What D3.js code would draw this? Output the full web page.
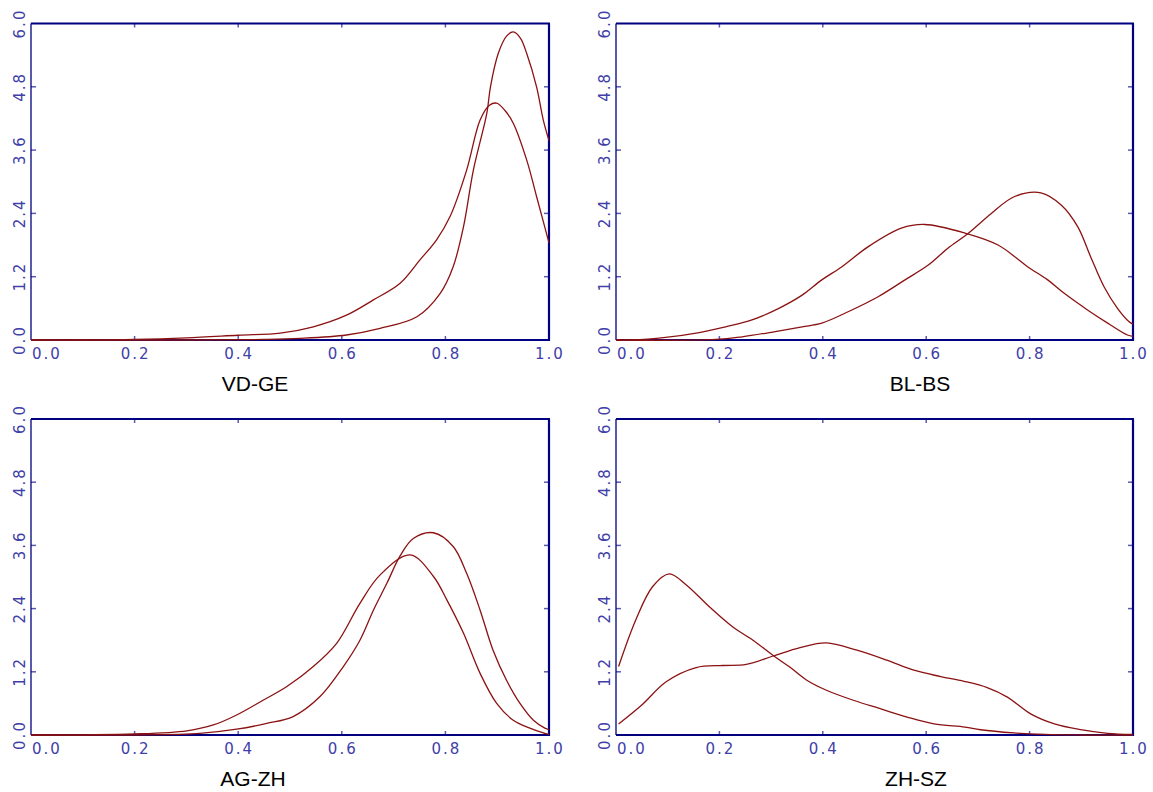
<!DOCTYPE html>
<html>
<head>
<meta charset="utf-8">
<script src="https://cdn.jsdelivr.net/npm/d3@7"></script>
<style>
  body { margin: 0; background: #fff; }
  .tick-label { font-family: "DejaVu Sans", sans-serif; font-size: 15px; fill: #4040a8; letter-spacing: 2px; }
  .title { font-family: "Liberation Sans", Arial, sans-serif; font-size: 21px; fill: #000; }
</style>
</head>
<body>
<div class="chart"></div>
<script>
var svgWidth = 1153;
var svgHeight = 792;

// tick values
var xTicks = [0.0, 0.2, 0.4, 0.6, 0.8, 1.0];
var yTicks = [0.0, 1.2, 2.4, 3.6, 4.8, 6.0];

// panel names
var titles = ["VD-GE", "BL-BS", "AG-ZH", "ZH-SZ"];

// density curves, [x, y]
var vdgeA = [[0, 0], [0.3, 0], [0.45, 0.01], [0.52, 0.03], [0.609, 0.095], [0.674, 0.22], [0.745, 0.44],
  [0.79, 0.885], [0.815, 1.39], [0.835, 2.15], [0.854, 3.22], [0.88, 4.3], [0.887, 4.8], [0.902, 5.43],
  [0.918, 5.76], [0.931, 5.84], [0.945, 5.72], [0.957, 5.43], [0.976, 4.8], [0.989, 4.17], [1.0, 3.78]];
var vdgeB = [[0, 0], [0.1, 0], [0.2, 0.01], [0.3, 0.04], [0.4, 0.09], [0.481, 0.13], [0.545, 0.25],
  [0.609, 0.47], [0.661, 0.76], [0.712, 1.07], [0.751, 1.52], [0.783, 1.9], [0.809, 2.34], [0.841, 3.22],
  [0.867, 4.17], [0.885, 4.45], [0.899, 4.49], [0.915, 4.35], [0.931, 4.11], [0.957, 3.41], [0.976, 2.72],
  [1.0, 1.84]];

var blbsA = [[0, 0], [0.03, 0], [0.096, 0.05], [0.161, 0.14], [0.212, 0.25], [0.263, 0.38], [0.315, 0.6],
  [0.36, 0.85], [0.398, 1.14], [0.437, 1.39], [0.488, 1.77], [0.552, 2.12], [0.597, 2.19], [0.674, 2.03],
  [0.739, 1.8], [0.796, 1.39], [0.835, 1.14], [0.867, 0.885], [0.912, 0.57], [0.951, 0.32], [0.989, 0.095],
  [1.0, 0.07]];
var blbsB = [[0, 0], [0.193, 0.01], [0.244, 0.06], [0.308, 0.16], [0.36, 0.25], [0.398, 0.32], [0.45, 0.54],
  [0.507, 0.82], [0.559, 1.14], [0.604, 1.42], [0.642, 1.74], [0.681, 2.02], [0.726, 2.4], [0.771, 2.72],
  [0.822, 2.79], [0.861, 2.56], [0.893, 2.15], [0.918, 1.58], [0.944, 1.01], [0.97, 0.6], [0.992, 0.35],
  [1.0, 0.3]];

var agzhA = [[0, 0], [0.2, 0], [0.326, 0.03], [0.397, 0.11], [0.455, 0.22], [0.506, 0.35], [0.558, 0.73],
  [0.603, 1.3], [0.635, 1.8], [0.661, 2.37], [0.687, 2.88], [0.712, 3.39], [0.738, 3.73], [0.777, 3.84],
  [0.815, 3.58], [0.841, 3.07], [0.867, 2.37], [0.892, 1.61], [0.918, 1.04], [0.944, 0.6], [0.97, 0.28],
  [0.992, 0.13], [1.0, 0.1]];
var agzhB = [[0, 0], [0.2, 0.02], [0.301, 0.08], [0.352, 0.19], [0.397, 0.38], [0.448, 0.66], [0.494, 0.92],
  [0.545, 1.3], [0.59, 1.74], [0.635, 2.5], [0.674, 3.04], [0.732, 3.42], [0.777, 3.01], [0.803, 2.56],
  [0.835, 1.93], [0.867, 1.17], [0.899, 0.6], [0.931, 0.28], [0.963, 0.13], [0.992, 0.03], [1.0, 0.01]];

var zhszA = [[0.005, 1.3], [0.038, 2.18], [0.071, 2.82], [0.103, 3.06], [0.136, 2.85], [0.181, 2.43],
  [0.226, 2.05], [0.265, 1.8], [0.304, 1.51], [0.336, 1.29], [0.369, 1.04], [0.407, 0.85], [0.459, 0.66],
  [0.511, 0.5], [0.563, 0.34], [0.615, 0.21], [0.675, 0.15], [0.705, 0.1], [0.77, 0.04], [0.83, 0.01],
  [0.9, 0], [1.0, 0]];
var zhszB = [[0.005, 0.21], [0.051, 0.58], [0.097, 1.01], [0.155, 1.28], [0.207, 1.32], [0.252, 1.34],
  [0.304, 1.5], [0.356, 1.66], [0.407, 1.75], [0.466, 1.61], [0.524, 1.42], [0.576, 1.23], [0.628, 1.11],
  [0.673, 1.02], [0.718, 0.9], [0.757, 0.72], [0.802, 0.4], [0.848, 0.21], [0.899, 0.1], [0.951, 0.03],
  [1.0, 0.01]];

var curves = [[vdgeA, vdgeB], [blbsA, blbsB], [agzhA, agzhB], [zhszA, zhszB]];

// panel boxes (left, right, top, bottom) and title centers
var panels = [
  { x0: 31, x1: 549, y0: 23.5, y1: 340, tx: 255, ty: 391 },
  { x0: 616, x1: 1133, y0: 23.5, y1: 340, tx: 920, ty: 391 },
  { x0: 31, x1: 549, y0: 419, y1: 735, tx: 253, ty: 786 },
  { x0: 616, x1: 1133, y0: 419, y1: 735, tx: 916, ty: 786 }
];

var navy = "#000080";
var tickColor = "#5a5ab4";
var lineColor = "#8b1212";

var svg = d3
  .select(".chart")
  .append("svg")
  .attr("width", svgWidth)
  .attr("height", svgHeight);

panels.forEach(function(p, i) {
  var xScale = d3.scaleLinear().domain([0, 1]).range([p.x0, p.x1]);
  var yScale = d3.scaleLinear().domain([0, 6]).range([p.y1, p.y0]);

  var g = svg.append("g");

  // tick marks, inside the frame on all four sides
  xTicks.slice(1, -1).forEach(function(t) {
    g.append("line").attr("x1", xScale(t)).attr("x2", xScale(t))
      .attr("y1", p.y1).attr("y2", p.y1 - 4)
      .attr("stroke", tickColor).attr("stroke-width", 1.5);
    g.append("line").attr("x1", xScale(t)).attr("x2", xScale(t))
      .attr("y1", p.y0).attr("y2", p.y0 + 4)
      .attr("stroke", tickColor).attr("stroke-width", 1.5);
  });
  yTicks.slice(1, -1).forEach(function(t) {
    g.append("line").attr("x1", p.x0).attr("x2", p.x0 + 5)
      .attr("y1", yScale(t)).attr("y2", yScale(t))
      .attr("stroke", tickColor).attr("stroke-width", 1.5);
    g.append("line").attr("x1", p.x1).attr("x2", p.x1 - 5)
      .attr("y1", yScale(t)).attr("y2", yScale(t))
      .attr("stroke", tickColor).attr("stroke-width", 1.5);
  });

  // frame: thin left side, heavier top/right/bottom
  g.append("line").attr("x1", p.x0).attr("x2", p.x0).attr("y1", p.y0).attr("y2", p.y1)
    .attr("stroke", navy).attr("stroke-width", 1.3);
  g.append("line").attr("x1", p.x0).attr("x2", p.x1 + 1).attr("y1", p.y0).attr("y2", p.y0)
    .attr("stroke", navy).attr("stroke-width", 2.2);
  g.append("line").attr("x1", p.x1).attr("x2", p.x1).attr("y1", p.y0).attr("y2", p.y1 + 1)
    .attr("stroke", navy).attr("stroke-width", 2.2);
  g.append("line").attr("x1", p.x0).attr("x2", p.x1 + 1).attr("y1", p.y1).attr("y2", p.y1)
    .attr("stroke", navy).attr("stroke-width", 2.2);

  // x tick labels (first one starts at the axis)
  g.selectAll(".xl")
    .data(xTicks)
    .enter()
    .append("text")
    .attr("class", "tick-label")
    .attr("x", d => xScale(d) + 1)
    .attr("y", p.y1 + 19)
    .attr("text-anchor", (d, j) => j === 0 ? "start" : "middle")
    .text(d => d.toFixed(1));

  // y tick labels, rotated
  g.selectAll(".yl")
    .data(yTicks)
    .enter()
    .append("text")
    .attr("class", "tick-label")
    .attr("transform", d => `translate(${p.x0 - 6}, ${yScale(d)}) rotate(-90)`)
    .attr("text-anchor", "middle")
    .text(d => d.toFixed(1));

  // density lines
  var line = d3.line()
    .x(d => xScale(d[0]))
    .y(d => yScale(Math.max(0, d[1])))
    .curve(d3.curveCatmullRom.alpha(0.5));

  curves[i].forEach(function(c) {
    g.append("path")
      .datum(c)
      .attr("d", line)
      .attr("fill", "none")
      .attr("stroke", lineColor)
      .attr("stroke-width", 1.3);
  });

  // panel title
  g.append("text")
    .attr("class", "title")
    .attr("x", p.tx)
    .attr("y", p.ty)
    .attr("text-anchor", "middle")
    .text(titles[i]);
});
</script>
</body>
</html>
